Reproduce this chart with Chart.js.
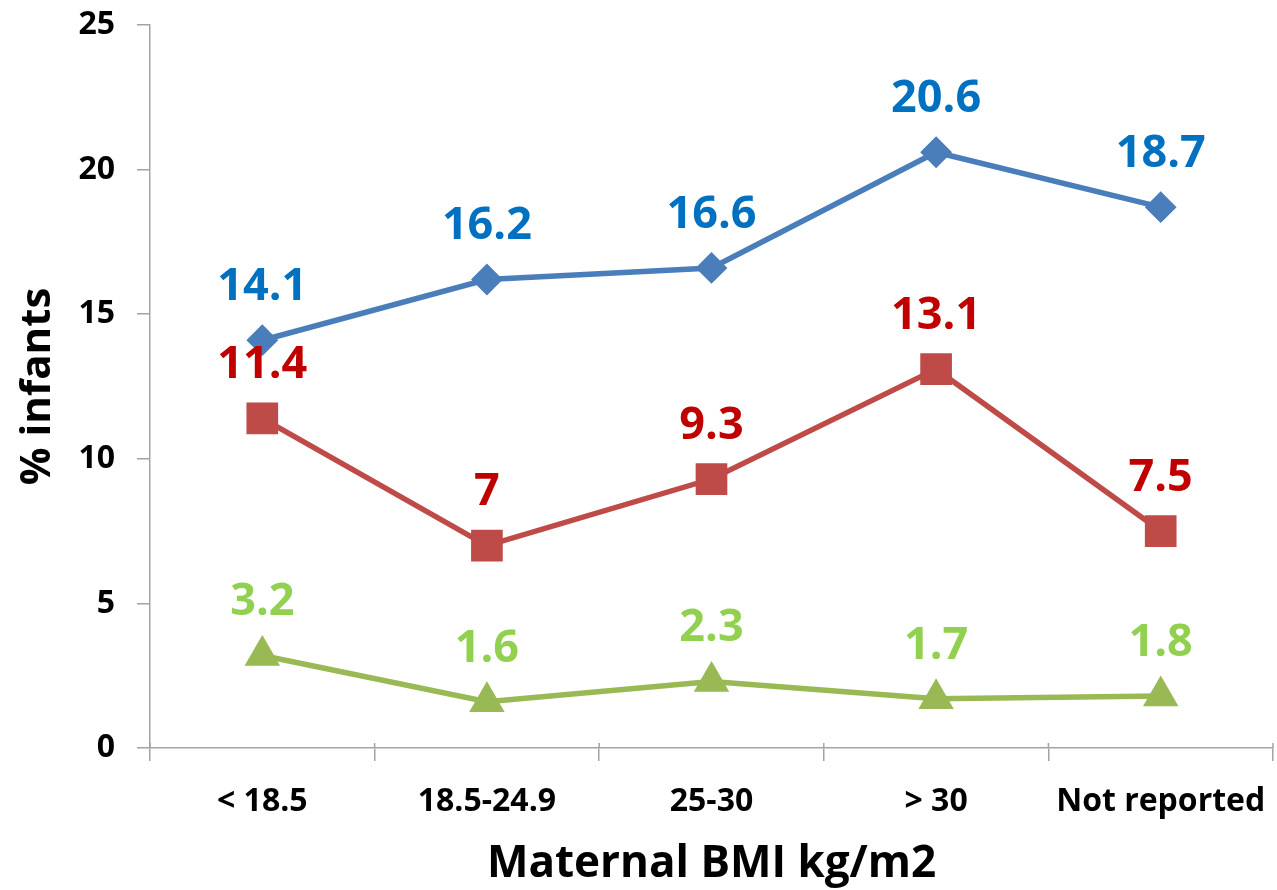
<!DOCTYPE html>
<html>
<head>
<meta charset="utf-8">
<script src="https://cdn.jsdelivr.net/npm/chart.js@4"></script>
<style>
  html, body { margin: 0; padding: 0; background: #fff; }
  #wrap { width: 1277px; height: 890px; }
</style>
</head>
<body>
<div id="wrap"><canvas id="grafico"></canvas></div>
<script>
// categorias de IMC materno
let categorias = ["< 18.5", "18.5-24.9", "25-30", "> 30", "Not reported"];

// series (% de lactantes)
let serieAzul = [14.1, 16.2, 16.6, 20.6, 18.7];
let serieRoja = [11.4, 7, 9.3, 13.1, 7.5];
let serieVerde = [3.2, 1.6, 2.3, 1.7, 1.8];

let ticksY = [0, 5, 10, 15, 20, 25];

let fuente = "'Open Sans', 'DejaVu Sans', sans-serif";
let gris = "#a3a3a3";

// etiquetas de valor encima de cada punto
const etiquetas = {
    id: "etiquetas",
    afterDatasetsDraw(chart) {
        let ctx = chart.ctx;
        ctx.save();
        ctx.font = "bold 45px " + fuente;
        ctx.textAlign = "center";
        ctx.textBaseline = "middle";
        chart.data.datasets.forEach((ds, i) => {
            let meta = chart.getDatasetMeta(i);
            ctx.fillStyle = ds.colorEtiqueta;
            meta.data.forEach((p, j) => {
                ctx.fillText(String(ds.data[j]), p.x, p.y - 53);
            });
        });
        ctx.restore();
    }
};

// marcas del eje x que cruzan un poco hacia arriba
const cruces = {
    id: "cruces",
    afterDraw(chart) {
        let x = chart.scales.x;
        let ctx = chart.ctx;
        ctx.save();
        ctx.strokeStyle = gris;
        ctx.lineWidth = 1.5;
        for (let i = 0; i <= categorias.length; i++) {
            let px = x.getPixelForValue(i - 0.5);
            ctx.beginPath();
            ctx.moveTo(px, x.top);
            ctx.lineTo(px, x.top - 5);
            ctx.stroke();
        }
        ctx.restore();
    }
};

new Chart(document.getElementById("grafico"), {
    type: "line",
    data: {
        labels: categorias,
        datasets: [
            {
                data: serieAzul,
                borderColor: "#4a7ebb",
                backgroundColor: "#4a7ebb",
                borderWidth: 5.5,
                pointStyle: "rectRot",
                pointRadius: 12,
                pointHoverRadius: 12,
                colorEtiqueta: "#0070c0"
            },
            {
                data: serieRoja,
                borderColor: "#be4b48",
                backgroundColor: "#be4b48",
                borderWidth: 5.5,
                pointStyle: "rect",
                pointRadius: 18.5,
                pointHoverRadius: 18.5,
                colorEtiqueta: "#c00000"
            },
            {
                data: serieVerde,
                borderColor: "#98b954",
                backgroundColor: "#98b954",
                borderWidth: 5.5,
                pointStyle: "triangle",
                pointRadius: 15,
                pointHoverRadius: 15,
                colorEtiqueta: "#92d050"
            }
        ]
    },
    options: {
        responsive: true,
        maintainAspectRatio: false,
        animation: false,
        layout: {
            autoPadding: false,
            padding: { top: 25, right: 4, left: 0, bottom: 0 }
        },
        plugins: {
            legend: { display: false },
            tooltip: { enabled: false }
        },
        scales: {
            x: {
                offset: true,
                grid: {
                    offset: true,
                    drawOnChartArea: false,
                    tickLength: 13,
                    color: gris,
                    lineWidth: 1.5
                },
                border: { color: gris, width: 1.5 },
                ticks: {
                    color: "#000",
                    padding: 22,
                    maxRotation: 0,
                    font: { family: fuente, size: 32, weight: "bold" }
                },
                title: {
                    display: true,
                    text: "Maternal BMI kg/m2",
                    color: "#000",
                    padding: { top: 0, bottom: 4 },
                    font: { family: fuente, size: 44, weight: "bold", lineHeight: 1 }
                },
                afterFit(scale) {
                    scale.height = 142;
                    scale.paddingLeft = 0;
                    scale.paddingRight = 0;
                }
            },
            y: {
                min: 0,
                max: 25,
                afterBuildTicks(scale) {
                    scale.ticks = ticksY.map(v => ({ value: v }));
                },
                grid: {
                    drawOnChartArea: false,
                    tickLength: 13,
                    color: gris,
                    lineWidth: 1.5
                },
                border: { color: gris, width: 1.5 },
                ticks: {
                    color: "#000",
                    padding: 22,
                    font: { family: fuente, size: 32, weight: "bold" }
                },
                title: {
                    display: true,
                    text: "% infants",
                    color: "#000",
                    padding: { top: 17, bottom: 0 },
                    font: { family: fuente, size: 42, weight: "bold", lineHeight: 1 }
                },
                afterFit(scale) {
                    scale.width = 150;
                    scale.paddingTop = 0;
                    scale.paddingBottom = 0;
                }
            }
        }
    },
    plugins: [etiquetas, cruces]
});
</script>
</body>
</html>
